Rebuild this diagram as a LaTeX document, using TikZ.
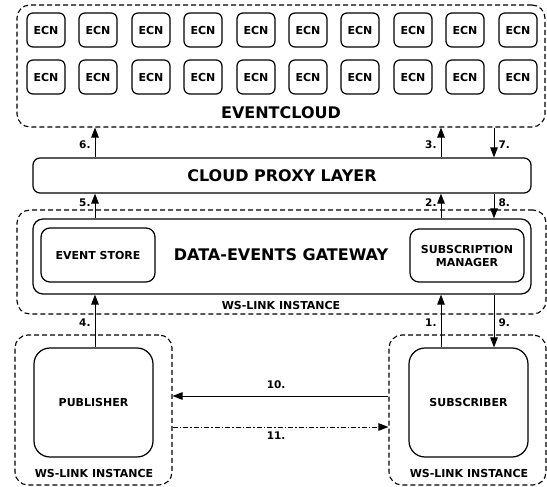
\documentclass[tikz,border=0pt]{standalone}
\usepackage{fontspec}
\setmainfont{DejaVu Sans}
\usetikzlibrary{arrows.meta}
\begin{document}
\begin{tikzpicture}[x=1pt,y=-1pt,
  dashbox/.style={draw,line width=1.1pt,dash pattern=on 5pt off 3pt,rounded corners=13pt,inner sep=0pt},
  solidbox/.style={draw,line width=1.2pt,inner sep=0pt,align=center,font=\fontsize{11}{13}\selectfont\bfseries},
  ecn/.style={solidbox,rounded corners=6pt,minimum width=38pt,minimum height=34pt},
  big/.style={font=\fontsize{16}{19}\selectfont\bfseries},
  small/.style={font=\fontsize{11}{13}\selectfont\bfseries},
  num/.style={font=\fontsize{10.5}{12}\selectfont\bfseries,inner sep=4pt},
  arr/.style={line width=1pt,-{Triangle[length=10pt,width=7.5pt]}}]
\useasboundingbox (0,0) rectangle (547,487);
% EventCloud
\node[dashbox,minimum width=528pt,minimum height=122pt] (ec) at (281,66) {};
\foreach \x [count=\i] in {46,98,151,203,256,308,360,413,465,518}{
  \node[ecn] (ecnA\i) at (\x,30) {ECN};
  \node[ecn] (ecnB\i) at (\x,77) {ECN};
}
\node[big] (eclabel) at (281,113) {EVENTCLOUD};
% Proxy
\node[solidbox,rounded corners=7pt,minimum width=498pt,minimum height=35pt,big] (proxy) at (282,175.5) {CLOUD PROXY LAYER};
% Gateway
\node[dashbox,minimum width=529pt,minimum height=104pt] (wsg) at (281.5,262) {};
\node[solidbox,rounded corners=10pt,minimum width=498pt,minimum height=75pt] (gw) at (282,256.5) {};
\node[big] (gwlabel) at (281,255) {DATA-EVENTS GATEWAY};
\node[solidbox,rounded corners=9pt,minimum width=114pt,minimum height=54pt] (es) at (98,255) {EVENT STORE};
\node[solidbox,rounded corners=9pt,minimum width=114pt,minimum height=53pt] (sm) at (467,255.5) {SUBSCRIPTION\\MANAGER};
\node[small] (wslabel) at (281,305) {WS-LINK INSTANCE};
% Publisher
\node[dashbox,minimum width=157pt,minimum height=150pt] (pubws) at (93.5,410) {};
\node[solidbox,rounded corners=16pt,minimum width=119pt,minimum height=109pt] (pub) at (93.5,402.5) {PUBLISHER};
\node[small] (publabel) at (94,473) {WS-LINK INSTANCE};
% Subscriber
\node[dashbox,minimum width=157pt,minimum height=150pt] (subws) at (467.5,410) {};
\node[solidbox,rounded corners=16pt,minimum width=119pt,minimum height=109pt] (sub) at (468.5,402.5) {SUBSCRIBER};
\node[small] (sublabel) at (469,473) {WS-LINK INSTANCE};
% Left arrows
\draw[arr] (pub.north -| 95,0) -- node[num,left,pos=0.46] {4.} (gw.south -| 95,0);
\draw[arr] (gw.north -| 95,0) -- node[num,left,pos=0.65] {5.} (proxy.south -| 95,0);
\draw[arr] (proxy.north -| 95,0) -- node[num,left,pos=0.42] {6.} (ec.south -| 95,0);
% Right up arrows
\draw[arr] (sub.north -| 441,0) -- node[num,left,pos=0.46] {1.} (gw.south -| 441,0);
\draw[arr] (gw.north -| 441,0) -- node[num,left,pos=0.65] {2.} (proxy.south -| 441,0);
\draw[arr] (proxy.north -| 441,0) -- node[num,left,pos=0.42] {3.} (ec.south -| 441,0);
% Right down arrows
\draw[arr] (ec.south -| 494,0) -- node[num,right,pos=0.58] {7.} (proxy.north -| 494,0);
\draw[arr] (proxy.south -| 494,0) -- node[num,right,pos=0.35] {8.} (gw.north -| 494,0);
\draw[arr] (gw.south -| 494,0) -- node[num,right,pos=0.54] {9.} (sub.north -| 494,0);
% Horizontal arrows
\draw[arr] (subws.west |- 0,396) -- node[num,above,pos=0.52,yshift=3pt] {10.} (pubws.east |- 0,396);
\draw[arr,dash pattern=on 5pt off 2pt on 1.5pt off 2pt] (pubws.east |- 0,427) -- node[num,below,pos=0.48] {11.} (subws.west |- 0,427);
\end{tikzpicture}
\end{document}
